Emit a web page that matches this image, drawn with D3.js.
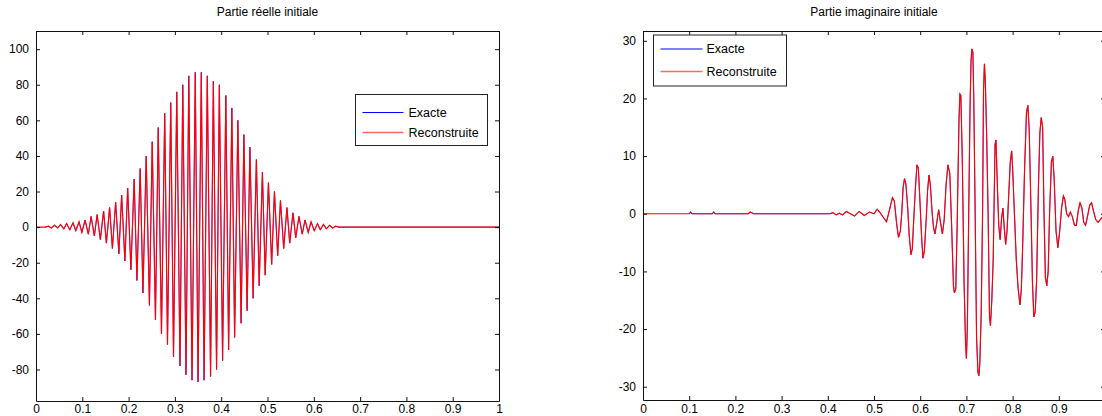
<!DOCTYPE html>
<html><head><meta charset="utf-8">
<script src="https://cdn.jsdelivr.net/npm/d3@7"></script>
<style>
body{margin:0;background:#fff;overflow:hidden}
text{font-family:"Liberation Sans",Arial,sans-serif;fill:#000}
</style></head>
<body><svg id="c" width="1102" height="416"></svg>
<script>
// ---------- data ----------
const titles = ["Partie réelle initiale", "Partie imaginaire initiale"];
const legendLabels = ["Exacte", "Reconstruite"];
const xTicks = [0, 0.1, 0.2, 0.3, 0.4, 0.5, 0.6, 0.7, 0.8, 0.9, 1];
const reelYTicks = [-80, -60, -40, -20, 0, 20, 40, 60, 80, 100];
const imagYTicks = [-30, -20, -10, 0, 10, 20, 30];
const reelYDomain = [-97.7, 110.2];
const imagYDomain = [-32.3, 31.7];
const exacteStart = [0.02, 0.043];   // la courbe exacte commence un peu après t = 0

// Partie réelle : [t, valeur]
const reelReconstruite = [
  [0,0],[0.020,0],[0.027,0.5],[0.033,-0.5],[0.040,1],[0.047,-0.5],[0.053,1.5],[0.060,-1],[0.066,2],[0.073,-1.5],
  [0.080,2.5],[0.086,-2],[0.093,3],[0.099,-3],[0.106,4],[0.113,-4],[0.119,6],[0.126,-5],[0.132,7],[0.139,-7],
  [0.146,9],[0.152,-9],[0.159,11],[0.165,-12],[0.172,14],[0.179,-15],[0.185,18],[0.192,-19],[0.198,22],[0.205,-24],
  [0.212,27],[0.218,-30],[0.225,33],[0.231,-37],[0.238,40],[0.245,-44],[0.251,48],[0.258,-52],[0.264,56],[0.271,-60],
  [0.278,64],[0.284,-66],[0.291,70],[0.297,-73],[0.304,76],[0.311,-78],[0.317,80],[0.324,-83],[0.330,85],[0.337,-86],
  [0.344,87],[0.350,-87],[0.357,87],[0.363,-86],[0.370,85],[0.377,-84],[0.383,82],[0.390,-80],[0.396,80],[0.403,-75],
  [0.410,74],[0.416,-69],[0.423,67],[0.429,-62],[0.436,60],[0.443,-54],[0.449,52],[0.456,-47],[0.462,45],[0.469,-40],
  [0.476,38],[0.482,-33],[0.489,31],[0.495,-27],[0.502,25],[0.509,-21],[0.515,20],[0.522,-16],[0.528,15],[0.535,-12],
  [0.542,11],[0.548,-9],[0.555,8],[0.561,-6],[0.568,6],[0.575,-4],[0.581,4],[0.588,-3],[0.594,3],[0.601,-2],
  [0.608,2],[0.614,-1.5],[0.621,1.5],[0.627,-1],[0.634,1],[0.641,-0.5],[0.647,0.5],[0.654,0],[0.667,0],[1,0]
];

// Partie imaginaire : [t, valeur]
const imagReconstruite = [
  [0,0],[0.100,0],[0.103,0.3],[0.106,0],[0.150,0],[0.153,0.3],[0.156,0],[0.228,0],[0.232,0.3],[0.240,0],
  [0.404,0],[0.411,0.2],[0.418,-0.2],[0.425,0.1],[0.432,-0.2],[0.440,0.4],[0.447,0.1],[0.458,-0.4],[0.468,0.4],[0.479,-0.3],
  [0.490,0.3],[0.500,0],[0.507,0.8],[0.514,0.1],[0.520,-0.6],[0.527,-1.4],[0.533,0.5],[0.540,2.8],[0.544,2.2],[0.549,-1.7],
  [0.553,-4.1],[0.557,-3],[0.560,0],[0.563,4.5],[0.566,6.1],[0.569,5.2],[0.573,1],[0.576,-3.5],[0.580,-7.1],[0.583,-6],
  [0.586,-1],[0.590,5],[0.593,8.5],[0.596,7.9],[0.599,3],[0.603,-4],[0.606,-7.7],[0.609,-6.5],[0.613,-1],[0.616,4],
  [0.619,6.7],[0.622,5],[0.626,0],[0.629,-2.5],[0.632,-3.5],[0.636,-1.5],[0.640,0.7],[0.644,-1.5],[0.648,-3.5],[0.652,-1],
  [0.656,5],[0.660,8.5],[0.664,7],[0.668,-2],[0.672,-12.5],[0.674,-13.7],[0.677,-13],[0.680,-2],[0.684,16.5],[0.686,20.8],
  [0.688,20.5],[0.691,10],[0.695,-12],[0.698,-22],[0.700,-25.1],[0.702,-20],[0.705,0],[0.708,19],[0.710,26.5],[0.712,28.6],
  [0.714,28],[0.716,20],[0.719,0],[0.722,-21.5],[0.725,-27.5],[0.727,-28.1],[0.729,-26],[0.732,-17.5],[0.735,0],[0.737,21],
  [0.739,26],[0.741,23],[0.744,13],[0.747,0],[0.750,-17.7],[0.752,-19.4],[0.755,-15],[0.758,-8],[0.762,12],[0.764,12.8],
  [0.767,5],[0.770,-2],[0.773,-4.5],[0.776,-1],[0.779,1],[0.782,-2.5],[0.785,-5.3],[0.788,-3],[0.792,4],[0.795,9],
  [0.798,10.9],[0.800,8],[0.804,0],[0.808,-8],[0.812,-13],[0.816,-15.8],[0.819,-13],[0.822,-5],[0.826,8],[0.830,17.5],
  [0.833,18.8],[0.836,14.5],[0.840,0],[0.843,-12],[0.846,-17.9],[0.849,-17],[0.852,-11.5],[0.856,5],[0.859,14],[0.862,16.7],
  [0.865,15],[0.868,0],[0.871,-11],[0.874,-12.5],[0.877,-10],[0.880,0],[0.884,9],[0.887,10],[0.890,6],[0.894,-3],
  [0.898,-5.9],[0.902,-3],[0.906,1],[0.910,3.1],[0.913,2.5],[0.917,0],[0.921,-0.5],[0.925,0.3],[0.929,-0.4],[0.934,-2],
  [0.938,-2],[0.942,0.5],[0.946,1.9],[0.950,1],[0.954,-1.5],[0.958,-2],[0.962,-0.5],[0.967,1.5],[0.971,1.9],[0.975,0.5],
  [0.980,-1],[0.985,-1.5],[1,0]
];

const reelExacte = reelReconstruite.filter(d => d[0] >= exacteStart[0]);
const imagExacte = imagReconstruite.filter(d => d[0] >= exacteStart[1]);

// ---------- drawing ----------
const svg = d3.select("#c");
const FONT = "Liberation Sans, Arial, sans-serif";
const W = 1102;

function panel(cfg) {
  const g = svg.append("g");
  const x = d3.scaleLinear().domain([0, 1]).range([cfg.left, cfg.right]);
  const y = d3.scaleLinear().domain(cfg.yDomain).range([cfg.bottom, cfg.top]);

  const clipId = "clip" + cfg.id;
  svg.append("clipPath").attr("id", clipId).append("rect")
    .attr("x", cfg.left).attr("y", cfg.top)
    .attr("width", cfg.right - cfg.left).attr("height", cfg.bottom - cfg.top);

  const line = d3.line().x(d => x(d[0])).y(d => y(d[1]));
  const plot = g.append("g").attr("clip-path", `url(#${clipId})`);
  plot.append("path").datum(cfg.exacte).attr("d", line)
    .attr("fill", "none").attr("stroke", "#0000ff").attr("stroke-width", 0.7);
  plot.append("path").datum(cfg.recon).attr("d", line)
    .attr("fill", "none").attr("stroke", "#ff0000").attr("stroke-width", 1.15);

  // axes (style MATLAB : cadre avec graduations intérieures)
  const tl = 4;
  const axB = g.append("g").attr("transform", `translate(0,${cfg.bottom})`)
    .call(d3.axisBottom(x).tickValues(xTicks).tickSizeInner(-tl).tickSizeOuter(0).tickFormat(d3.format("")));
  const axT = g.append("g").attr("transform", `translate(0,${cfg.top})`)
    .call(d3.axisTop(x).tickValues(xTicks).tickSizeInner(-tl).tickSizeOuter(0).tickFormat(""));
  const axL = g.append("g").attr("transform", `translate(${cfg.left},0)`)
    .call(d3.axisLeft(y).tickValues(cfg.yTicks).tickSizeInner(-tl).tickSizeOuter(0).tickPadding(7).tickFormat(d3.format("")));
  const axR = g.append("g").attr("transform", `translate(${cfg.right},0)`)
    .call(d3.axisRight(y).tickValues(cfg.yTicks).tickSizeInner(-tl).tickSizeOuter(0).tickFormat(""));
  [axB, axT, axL, axR].forEach(a => {
    a.select(".domain").attr("stroke", "#111").attr("stroke-width", 1);
    a.selectAll(".tick line").attr("stroke", "#111");
    a.selectAll("text").attr("font-size", 12).attr("font-family", FONT).attr("fill", "#111");
  });
  axB.selectAll(".tick text").attr("dy", null).attr("y", 412.5 - cfg.bottom);
  // un libellé qui tombe hors de la fenêtre n'est pas visible dans la référence
  axB.selectAll(".tick").filter(d => x(d) > W - 4).select("text").remove();
  axL.selectAll(".tick text").text(d => d < 0 ? "-" + Math.abs(d) : d);

  // titre
  g.append("text").attr("x", (cfg.left + cfg.right) / 2).attr("y", 16)
    .attr("text-anchor", "middle").attr("font-size", 12).attr("font-family", FONT).text(cfg.title);

  // légende
  const L = cfg.legend;
  g.append("rect").attr("x", L.x).attr("y", L.y).attr("width", L.w).attr("height", L.h)
    .attr("fill", "#fff").attr("stroke", "#222").attr("stroke-width", 1);
  const colors = ["#0000ff", "#ff0000"];
  legendLabels.forEach((lab, i) => {
    const ly = L.y + L.row0 + i * L.step;
    g.append("line").attr("x1", L.x + L.lx0).attr("x2", L.x + L.lx1).attr("y1", ly).attr("y2", ly)
      .attr("stroke", colors[i]).attr("stroke-width", i === 0 ? 1 : 1.6).attr("stroke-opacity", i === 0 ? 1 : 0.6);
    g.append("text").attr("x", L.x + L.tx).attr("y", ly).attr("dy", "0.35em")
      .attr("font-size", 12.5).attr("font-family", FONT).text(lab);
  });
}

panel({
  id: 1, left: 36, right: 499, top: 31, bottom: 401,
  yDomain: reelYDomain, yTicks: reelYTicks,
  exacte: reelExacte, recon: reelReconstruite, title: titles[0],
  legend: {x: 355.5, y: 94.5, w: 132, h: 51, row0: 18, step: 20, lx0: 7, lx1: 48, tx: 53}
});
panel({
  id: 2, left: 643, right: 1105, top: 31, bottom: 400,
  yDomain: imagYDomain, yTicks: imagYTicks,
  exacte: imagExacte, recon: imagReconstruite, title: titles[1],
  legend: {x: 653.5, y: 35, w: 133, h: 51, row0: 14, step: 22.5, lx0: 7, lx1: 49, tx: 53}
});
</script>
</body></html>
